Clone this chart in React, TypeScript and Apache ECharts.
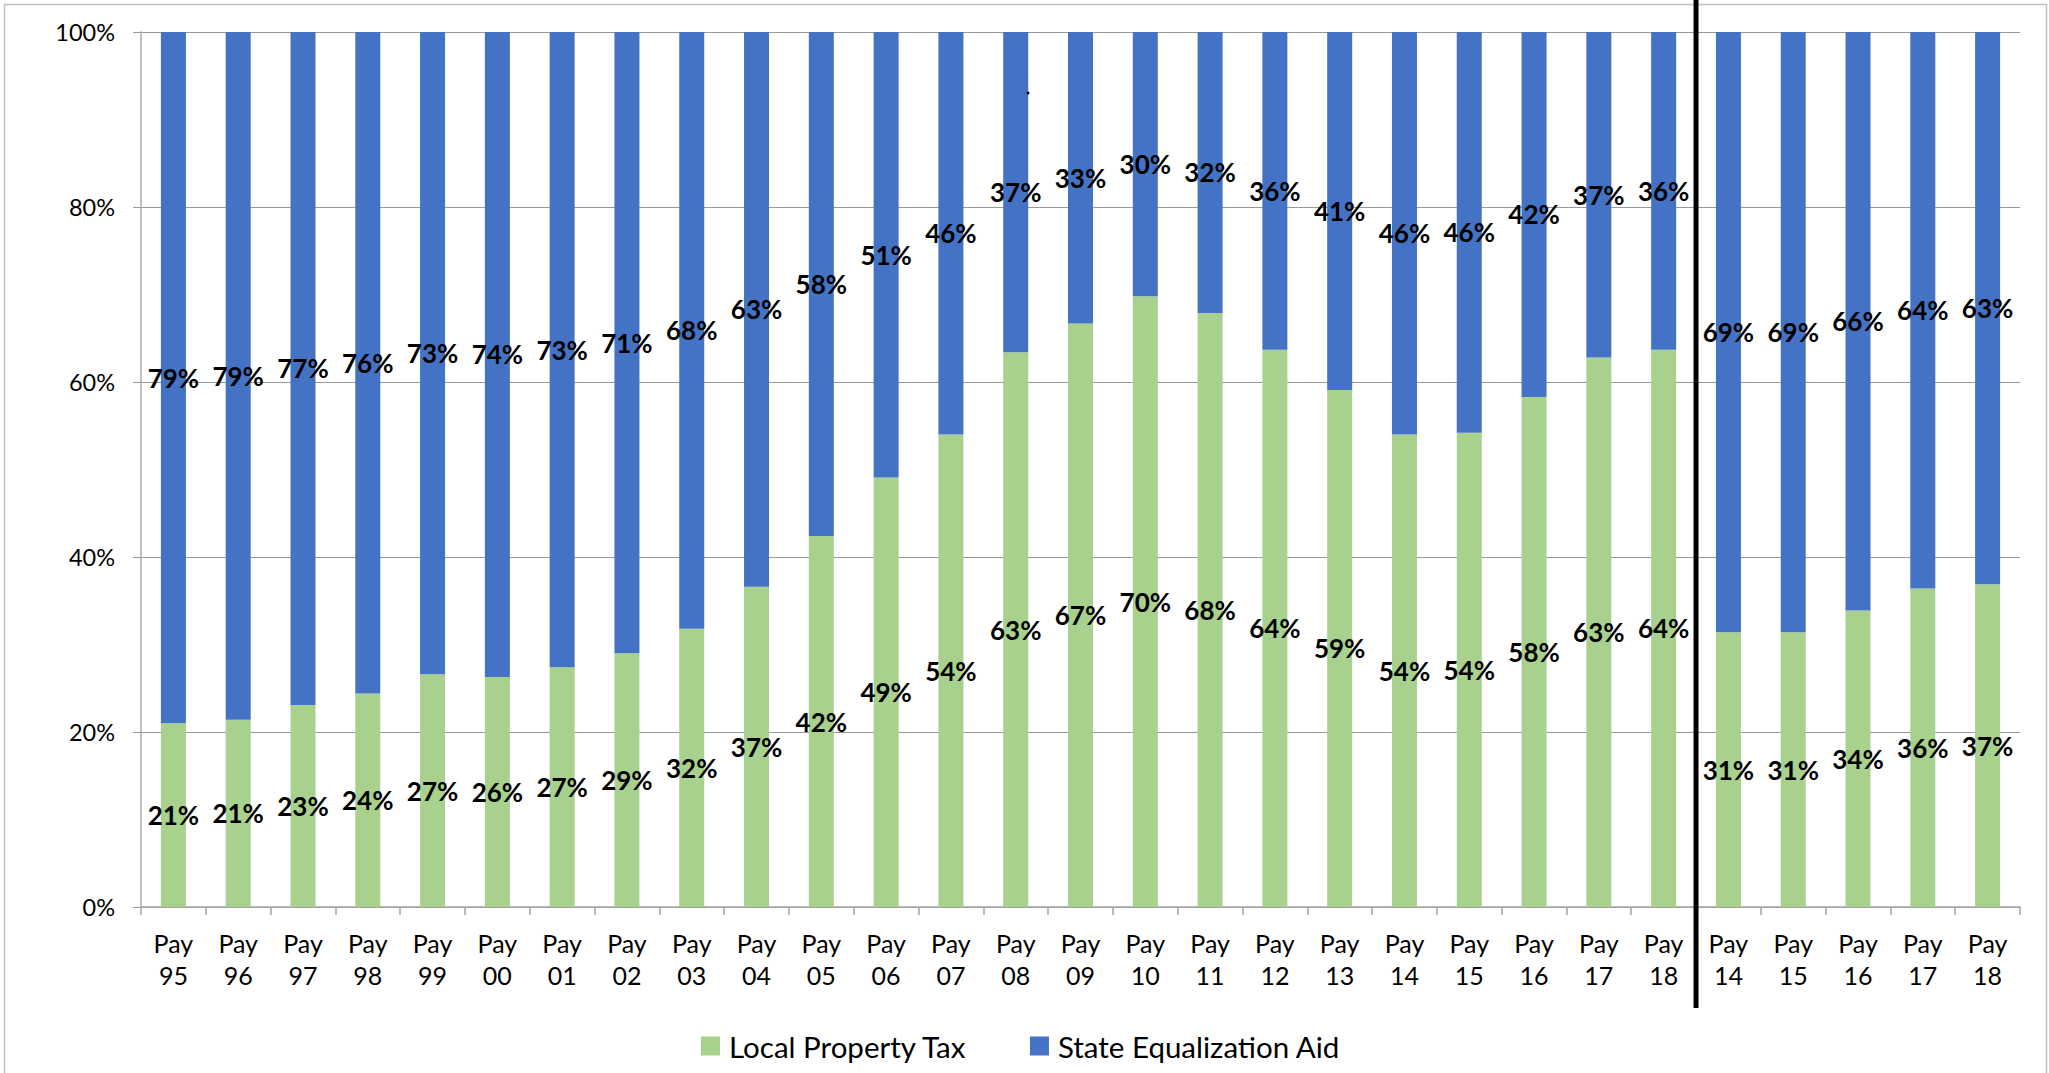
import React, { useEffect, useRef } from "react";
import * as echarts from "echarts";

const years = ["95", "96", "97", "98", "99", "00", "01", "02", "03", "04", "05", "06", "07", "08", "09", "10", "11", "12", "13", "14", "15", "16", "17", "18", "14", "15", "16", "17", "18"];
const localPropertyTax = [21.0, 21.4, 23.1, 24.4, 26.6, 26.3, 27.4, 29.0, 31.8, 36.6, 42.4, 49.1, 54.0, 63.4, 66.7, 69.8, 67.9, 63.7, 59.1, 54.0, 54.2, 58.3, 62.8, 63.7, 31.4, 31.4, 33.9, 36.4, 36.9];
const stateEqualizationAid = [79.0, 78.6, 76.9, 75.6, 73.4, 73.7, 72.6, 71.0, 68.2, 63.4, 57.6, 50.9, 46.0, 36.6, 33.3, 30.2, 32.1, 36.3, 40.9, 46.0, 45.8, 41.7, 37.2, 36.3, 68.6, 68.6, 66.1, 63.6, 63.1];
const yTicks = [0, 20, 40, 60, 80, 100];
const seriesNames = ["Local Property Tax", "State Equalization Aid"];
const colors = ["#A9D18E", "#4472C4"];
const splitAfterIndex = 23;

const FONT = "Lato, 'Open Sans', sans-serif";

export default function App() {
  const ref = useRef<HTMLDivElement>(null);
  useEffect(() => {
    document.body.style.margin = "0";
    if (!ref.current) return;
    const chart = echarts.init(ref.current, undefined, { renderer: "svg" });
    const categories = years.map((y) => "Pay\n" + y);
    const labelCfg = {
      show: true,
      position: "inside" as const,
      color: "#000",
      fontFamily: FONT,
      fontWeight: "bold" as const,
      fontSize: 26,
      formatter: (p: any) => Math.round(p.value) + "%",
    };
    chart.setOption({
      animation: false,
      backgroundColor: "#fff",
      textStyle: { fontFamily: FONT },
      grid: { left: 141, right: 29, top: 32, bottom: 166 },
      legend: {
        left: 701,
        top: 1031,
        padding: 0,
        itemWidth: 19,
        itemHeight: 19,
        itemGap: 63,
        icon: "rect",
        textStyle: { fontFamily: FONT, fontSize: 29.5, color: "#000", padding: [0, 0, 0, 4] },
        data: seriesNames,
      },
      xAxis: {
        type: "category",
        data: categories,
        axisLine: { show: true, lineStyle: { color: "#a6a6a6", width: 1.5 } },
        axisTick: { show: true, length: 8, lineStyle: { color: "#a6a6a6", width: 1.5 } },
        axisLabel: {
          interval: 0,
          margin: 20,
          fontFamily: FONT,
          fontSize: 25,
          lineHeight: 32,
          color: "#000",
        },
      },
      yAxis: {
        type: "value",
        min: yTicks[0],
        max: yTicks[yTicks.length - 1],
        interval: 20,
        axisLine: { show: true, lineStyle: { color: "#bfbfbf", width: 2 } },
        axisTick: { show: true, length: 8, lineStyle: { color: "#999" } },
        axisLabel: {
          margin: 26,
          fontFamily: FONT,
          fontSize: 23.5,
          color: "#000",
          formatter: "{value}%",
        },
        splitLine: { show: true, lineStyle: { color: "#999", width: 1 } },
      },
      series: [
        {
          name: seriesNames[0],
          type: "bar",
          stack: "total",
          barWidth: 25,
          itemStyle: { color: colors[0] },
          label: labelCfg,
          data: localPropertyTax,
        },
        {
          name: seriesNames[1],
          type: "bar",
          stack: "total",
          barWidth: 25,
          itemStyle: { color: colors[1] },
          label: labelCfg,
          data: stateEqualizationAid,
        },
      ],
    });
    const xa = chart.convertToPixel({ xAxisIndex: 0 }, splitAfterIndex) as number;
    const xb = chart.convertToPixel({ xAxisIndex: 0 }, splitAfterIndex + 1) as number;
    const sepX = (xa + xb) / 2;
    chart.setOption({
      graphic: [
        {
          type: "rect",
          shape: { x: 4.5, y: 4.5, width: 2042, height: 1080 },
          style: { fill: "none", stroke: "#bfbfbf", lineWidth: 1.5 },
          z: 100,
          silent: true,
        },
        {
          type: "line",
          shape: { x1: sepX, y1: 0, x2: sepX, y2: 1008 },
          style: { stroke: "#000", lineWidth: 5 },
          z: 101,
          silent: true,
        },
        {
          type: "circle",
          shape: { cx: 1028, cy: 93, r: 1.5 },
          style: { fill: "#000" },
          z: 101,
          silent: true,
        },
      ],
    });
    return () => chart.dispose();
  }, []);
  return <div ref={ref} style={{ width: 2049, height: 1073 }} />;
}
